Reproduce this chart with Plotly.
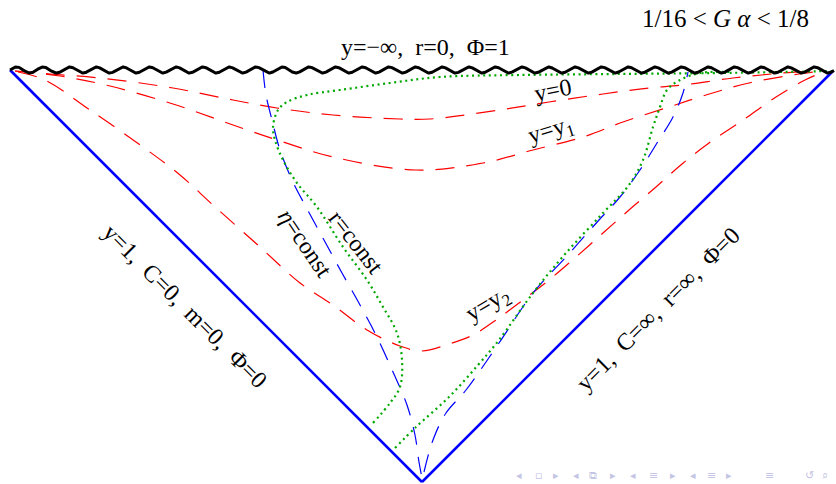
import numpy as np
import plotly.graph_objects as go

# ---- Penrose-diagram geometry (pixel-space coordinates) ----
edge_left_x = [10, 422]
edge_left_y = [70, 482]
edge_right_x = [833, 422]
edge_right_y = [71, 482]

sing_x0, sing_x1, sing_y = 10, 834, 70  # singularity y=-inf

# red dashed: y = const
y0_x = [15, 50, 100, 173, 233, 277, 333, 400, 430, 499, 549, 603, 649, 683, 733, 783, 812]
y0_y = [71, 74, 78, 88, 100, 108, 115, 119, 119, 110, 102, 94, 88, 85, 78, 73, 71]

y1_x = [15, 60, 110, 173, 233, 277, 333, 416, 483, 533, 583, 623, 669, 706, 749, 799, 822]
y1_y = [71, 76, 86, 104, 125, 140, 157, 170, 163, 150, 137, 122, 107, 95, 83, 74, 71]

y2_x = [18, 45, 90, 143, 180, 213, 260, 300, 333, 367, 400, 422, 449, 473, 496, 523, 549,
        576, 603, 629, 656, 682, 709, 743, 776, 805, 824]
y2_y = [72, 80, 110, 147, 175, 205, 247, 283, 305, 330, 346, 351, 344, 335, 320, 300, 280,
        257, 233, 210, 187, 164, 143, 120, 97, 80, 72]

# blue dashed: eta = const
etaA_x = [263, 266, 272, 280, 292, 306, 324, 342, 360, 377, 393, 407, 415, 419, 422]
etaA_y = [70, 95, 120, 150, 180, 207, 240, 273, 305, 337, 372, 405, 435, 462, 478]
etaB_x = [424, 433, 446, 466, 499, 533, 566, 599, 620, 640, 657, 673, 683, 688]
etaB_y = [472, 440, 413, 390, 343, 293, 257, 220, 197, 170, 143, 117, 93, 72]

# green dotted: r = const
rA_x = [373, 390, 400, 402, 397, 383, 367, 343, 317, 297, 283, 275, 273, 278, 287, 307, 340,
        390, 440, 520, 620, 720, 833]
rA_y = [423, 403, 387, 360, 333, 307, 280, 247, 207, 183, 160, 140, 127, 110, 102, 95, 90,
        83, 77, 75, 74, 73, 71]
rB_x = [395, 416, 449, 478, 499, 533, 566, 603, 629, 643, 653, 660, 667, 680, 700, 730]
rB_y = [448, 427, 397, 365, 340, 293, 253, 213, 185, 160, 127, 107, 90, 80, 73, 72]

# labels
NB = "\u00a0"
label_texts = ["1/16 &lt; <i>G" + NB + "α</i> &lt; 1/8",
               "y=−∞," + NB * 2 + "r=0," + NB * 2 + "Φ=1",
               "y=0", "y=y<sub>1</sub>", "y=y<sub>2</sub>", "r=const", "<i>η</i>=const",
               "y=1," + NB * 2 + "C=0," + NB * 2 + "m=0," + NB * 2 + "Φ=0",
               "y=1," + NB * 2 + "C=∞," + NB * 2 + "r=∞," + NB * 2 + "Φ=0"]
label_x = [725, 425, 553, 551, 488, 356, 305, 185, 658]
label_y = [18, 47, 90, 131, 305, 242, 243, 306, 309]
label_angle = [0, 0, -11, -17, -31, 52, 56, 45, -45]
label_size = [25, 24, 24, 24, 24, 24, 24, 24, 24]

# beamer navigation glyphs (faint, bottom-right)
nav_glyphs = ["◂", "▫", "▸", "◂", "⧉", "▸", "◂", "≡", "▸", "◂", "≡", "▸", "≡", "↺", "⌕"]
nav_x = [519, 538, 556, 576, 593, 613, 633, 653, 673, 693, 711, 729, 769, 809, 825]

RED = "#ff0000"
BLUE = "#0000ff"
GREEN = "#00a800"

fig = go.Figure()

def add_line(x, y, color, width, dash, shape="spline"):
    fig.add_trace(go.Scatter(x=x, y=y, mode="lines", line=dict(color=color, width=width, dash=dash,
                             shape=shape, smoothing=1.0), hoverinfo="skip", showlegend=False))

for cx, cy in [(y0_x, y0_y), (y1_x, y1_y), (y2_x, y2_y)]:
    add_line(cx, cy, RED, 1.2, "19px,12px")
for cx, cy in [(etaA_x, etaA_y), (etaB_x, etaB_y)]:
    add_line(cx, cy, BLUE, 1.2, "18px,12px")
for cx, cy in [(rA_x, rA_y), (rB_x, rB_y)]:
    add_line(cx, cy, GREEN, 2.2, "2px,3.6px")

add_line(edge_left_x, edge_left_y, BLUE, 2.6, "solid", "linear")
add_line(edge_right_x, edge_right_y, BLUE, 2.6, "solid", "linear")

# wavy singularity
wx = np.linspace(sing_x0, sing_x1, 1600)
wy = sing_y + 3.0 * np.sin((wx - sing_x0) / 26.6 * 2 * np.pi + np.pi)
fig.add_trace(go.Scatter(x=wx, y=wy, mode="lines", line=dict(color="black", width=3),
                         hoverinfo="skip", showlegend=False))

for t, x, y, a, s in zip(label_texts, label_x, label_y, label_angle, label_size):
    fig.add_annotation(x=x, y=y, text=t, showarrow=False, textangle=a,
                       font=dict(family="Liberation Serif, Times New Roman, serif", size=s, color="black"),
                       xanchor="center", yanchor="middle")

for g, x in zip(nav_glyphs, nav_x):
    fig.add_annotation(x=x, y=483, text=g, showarrow=False, xanchor="center", yanchor="bottom",
                       borderpad=0, font=dict(family="DejaVu Sans", size=11, color="#c4c4e4"))

fig.update_layout(width=836, height=484, margin=dict(l=0, r=0, t=0, b=0),
                  paper_bgcolor="white", plot_bgcolor="white",
                  xaxis=dict(range=[0, 836], visible=False, fixedrange=True),
                  yaxis=dict(range=[484, 0], visible=False, fixedrange=True))

fig.write_html("out.html", config={"displayModeBar": False},
               post_script="document.body.style.margin='0';document.body.style.overflow='hidden';")
